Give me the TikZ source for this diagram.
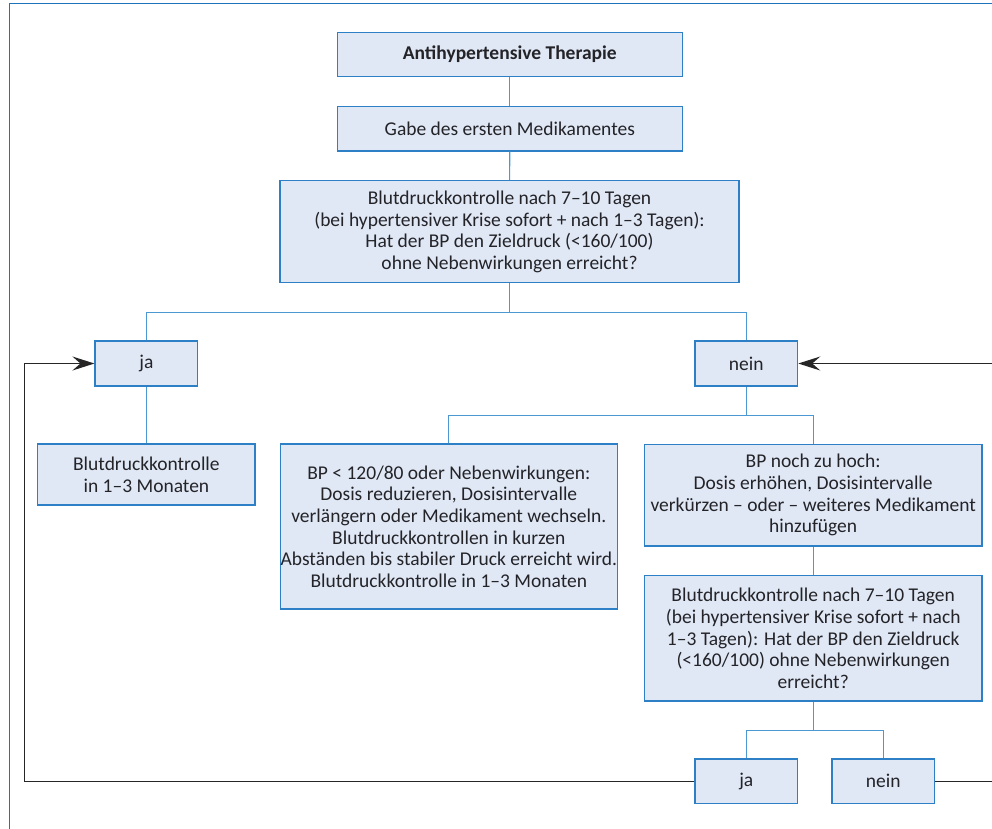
\documentclass[tikz,border=0pt]{standalone}
\usepackage{fontspec}
\setmainfont{Carlito}
\usetikzlibrary{positioning,calc,arrows.meta}

\definecolor{fuell}{RGB}{224,232,245}
\definecolor{boxrand}{RGB}{45,128,198}
\definecolor{linie}{RGB}{75,152,210}
\definecolor{rahmen}{RGB}{30,115,185}
\definecolor{schrift}{RGB}{35,35,40}

\tikzset{
	kasten/.style={draw=boxrand,line width=1.2pt,fill=fuell,text=schrift,align=center,inner sep=0pt,
		font=\fontsize{19.5}{21.6}\selectfont},
	verb/.style={draw=linie,line width=1.1pt},
	rueck/.style={draw=black!85,line width=1.4pt,-{Stealth[length=22pt,width=14pt,inset=8pt]}}
}

\begin{document}
\begin{tikzpicture}[x=1pt,y=-1pt]
		\useasboundingbox (0,0) rectangle (992,828);
		\clip (0,0) rectangle (992,828);
		\draw[rahmen,line width=1.3pt] (9.5,840) -- (9.5,3.5) -- (1000,3.5);
		
		\coordinate(links) at (24.3,0);
		\coordinate(rechts) at (1010,0);
		
		\node[kasten,minimum width=345pt,minimum height=44.4pt] (titel) at (509.8,54.5) {\textbf{Antihypertensive Therapie}};
		\node[kasten,minimum width=345pt,minimum height=44.3pt] (gabe) at (509.8,128.9) {Gabe des ersten Medikamentes};
		\node[kasten,minimum width=459pt,minimum height=102pt] (kontrolle) at (509.5,231.7) {Blutdruckkontrolle nach 7--10 Tagen\\(bei hypertensiver Krise sofort + nach 1--3 Tagen):\\Hat der BP den Zieldruck (<160/100)\\ohne Nebenwirkungen erreicht?};
		\node[kasten,minimum width=102.7pt,minimum height=45pt] (ja) at (146.4,363.5) {ja};
		\node[kasten,minimum width=102.7pt,minimum height=45pt] (nein) at (746.3,363.5) {nein};
		\node[kasten,minimum width=217.3pt,minimum height=61pt] (monate) at (146.4,474.5) {Blutdruckkontrolle\\in 1--3 Monaten};
		\node[kasten,minimum width=337pt,minimum height=165pt] (senken) at (448.8,526.5) {BP < 120/80 oder Nebenwirkungen:\\Dosis reduzieren, Dosisintervalle\\verlängern oder Medikament wechseln.\\Blutdruckkontrollen in kurzen\\Abständen bis stabiler Druck erreicht wird.\\Blutdruckkontrolle in 1--3 Monaten};
		\node[kasten,minimum width=337.7pt,minimum height=101.7pt] (hoch) at (813.2,495.2) {BP noch zu hoch:\\Dosis erhöhen, Dosisintervalle\\verkürzen -- oder -- weiteres Medikament\\hinzufügen};
		\node[kasten,minimum width=337.7pt,minimum height=125.3pt] (kontrolleb) at (813.2,638.3) {Blutdruckkontrolle nach 7--10 Tagen\\(bei hypertensiver Krise sofort + nach\\1--3 Tagen): Hat der BP den Zieldruck\\(<160/100) ohne Nebenwirkungen\\erreicht?};
		\node[kasten,minimum width=102.7pt,minimum height=44.7pt] (jab) at (746.3,781.3) {ja};
		\node[kasten,minimum width=102.7pt,minimum height=44.7pt] (neinb) at (883.3,781.3) {nein};
		
		\draw[verb] (titel) -- (gabe);
		\draw[verb] (gabe) -- (kontrolle);
		\draw[verb] (kontrolle.south) -- ++(0,29.3) coordinate(gabel);
		\draw[verb] (ja.north) |- (gabel) -| (nein.north);
		\draw[verb] (ja) -- (monate);
		\draw[verb] (nein.south) -- ++(0,29) coordinate(gabelb);
		\draw[verb] (senken.north) |- (gabelb) -| (hoch.north);
		\draw[verb] (hoch) -- (kontrolleb);
		\draw[verb] (kontrolleb.south) -- ++(0,29) coordinate(gabelc);
		\draw[verb] (jab.north) |- (gabelc) -| (neinb.north);
		
		\draw[rueck] (jab.west) -- (jab.west -| links) -- (ja.west -| links) -- (ja.west);
		\draw[rueck] (neinb.east) -- (neinb.east -| rechts) -- (nein.east -| rechts) -- (nein.east);
\end{tikzpicture}
\end{document}
